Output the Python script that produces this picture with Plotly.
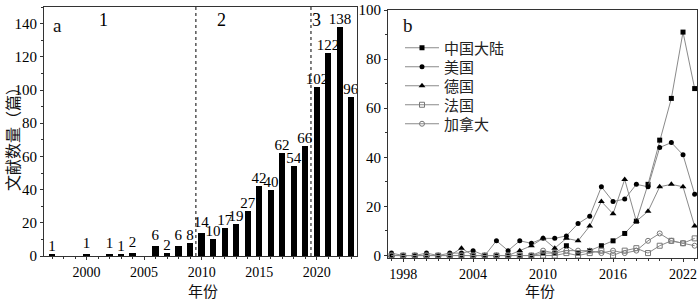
import plotly.graph_objects as go

# ---- Panel a data ----
years_a = list(range(1997, 2024))
counts_a = [1, 0, 0, 1, 0, 1, 1, 2, 0, 6, 2, 6, 8, 14, 10, 17, 19, 27, 42, 40, 62, 54, 66, 102, 122, 138, 96]
phase_bounds = [2009.5, 2019.5]
phase_labels = ["1", "2", "3"]
phase_label_x = [2001.5, 2011.7, 2020.0]

# ---- Panel b data ----
years_b = list(range(1997, 2024))
china = [0, 0, 0, 0, 0, 0, 0, 0, 0, 0, 0, 0, 0, 1, 1, 4, 1, 2, 4, 6, 9, 14, 29, 47, 64, 91, 68]
usa = [1, 0, 0, 1, 0, 1, 1, 2, 0, 6, 2, 6, 5, 7, 7, 8, 13, 16, 28, 22, 23, 29, 28, 44, 46, 41, 25]
germany = [0, 0, 0, 0, 0, 0, 3, 0, 0, 0, 0, 2, 4, 7, 3, 7, 6, 12, 22, 17, 31, 14, 18, 28, 29, 28, 12]
france = [0, 0, 0, 0, 0, 0, 0, 0, 0, 0, 0, 0, 0, 0, 0, 1, 0, 1, 2, 0, 2, 3, 1, 4, 6, 5, 7]
canada = [0, 0, 0, 0, 0, 0, 0, 0, 0, 0, 0, 0, 0, 2, 1, 2, 2, 2, 1, 2, 1, 2, 6, 9, 6, 5, 4]
series_names = ["中国大陆", "美国", "德国", "法国", "加拿大"]

FONT = "Liberation Serif, 'Times New Roman', 'Noto Sans CJK SC', serif"
CJK = "'Noto Sans CJK SC', 'Liberation Serif', serif"
AX = "#333333"
LINE = "#8a8a8a"

fig = go.Figure()

# bars
fig.add_trace(go.Bar(
    x=years_a, y=counts_a,
    text=[str(v) if v else "" for v in counts_a],
    textposition="outside", constraintext="none", cliponaxis=False,
    textfont=dict(family=FONT, size=15, color="black"),
    marker=dict(color="black", line=dict(width=0)),
    width=0.55, xaxis="x", yaxis="y", showlegend=False,
))

# dotted phase boundaries
for xb in phase_bounds:
    fig.add_shape(type="line", xref="x", yref="y", x0=xb, x1=xb, y0=0, y1=150,
                  line=dict(color="black", width=1, dash="dot"))

for lbl, xl in zip(phase_labels, phase_label_x):
    fig.add_annotation(x=xl, y=142, xref="x", yref="y", text=lbl, showarrow=False,
                       xanchor="center", yanchor="middle",
                       font=dict(family=FONT, size=18, color="black"))

# lines panel b, each in its own legend so spacing matches
specs = [
    (china, dict(symbol="square", size=5, color="black")),
    (usa, dict(symbol="circle", size=5, color="black")),
    (germany, dict(symbol="triangle-up", size=6, color="black")),
    (france, dict(symbol="square-open", size=5, color="#777777")),
    (canada, dict(symbol="circle-open", size=5, color="#777777")),
]
legend_ids = ["legend", "legend2", "legend3", "legend4", "legend5"]
legend_y_px = [48, 67, 86, 105, 124]
for name, (vals, mk), lid in zip(series_names, specs, legend_ids):
    fig.add_trace(go.Scatter(
        x=years_b, y=vals, name=name, mode="lines+markers",
        line=dict(color=LINE, width=1), marker=mk,
        xaxis="x2", yaxis="y2", legend=lid,
    ))

axis_common = dict(showline=True, linecolor=AX, linewidth=1, mirror=True,
                   showgrid=False, zeroline=False, ticks="outside", ticklen=3,
                   tickcolor=AX, automargin=False)
xfont = dict(family=FONT, size=14, color="black")
yfont = dict(family=FONT, size=15, color="black")

layout_legends = {}
for lid, ypx in zip(legend_ids, legend_y_px):
    layout_legends[lid] = dict(x=400/700, y=1-ypx/300, xanchor="left", yanchor="middle",
                               bgcolor="rgba(0,0,0,0)", borderwidth=0,
                               font=dict(family=CJK, size=15, color="#222"),
                               itemwidth=34, tracegroupgap=0)

fig.update_layout(
    width=700, height=300,
    margin=dict(l=0, r=0, t=0, b=0, pad=0),
    paper_bgcolor="white", plot_bgcolor="white",
    bargap=0,
    xaxis=dict(domain=[44/700, 357/700], range=[1996.3, 2023.5],
               tickvals=[2000, 2005, 2010, 2015, 2020], anchor="y", tickfont=xfont,
               minor=dict(dtick=1, ticklen=2, tickcolor=AX, ticks="outside"),
               **axis_common),
    yaxis=dict(domain=[1-256/300, 1-7/300], range=[0, 150],
               tickvals=[0, 20, 40, 60, 80, 100, 120, 140], anchor="x", tickfont=yfont,
               minor=dict(dtick=10, ticklen=2, tickcolor=AX, ticks="outside"),
               **axis_common),
    xaxis2=dict(domain=[388/700, 697/700], range=[1996.7, 2023.2],
                tickvals=[1998, 2004, 2010, 2016, 2022], anchor="y2", tickfont=xfont,
                minor=dict(dtick=1, ticklen=2, tickcolor=AX, ticks="outside"),
                **axis_common),
    yaxis2=dict(domain=[1-258/300, 1-10/300], range=[-1, 100],
                tickvals=[0, 20, 40, 60, 80, 100], anchor="x2", tickfont=yfont,
                minor=dict(dtick=10, ticklen=2, tickcolor=AX, ticks="outside"),
                **axis_common),
    **layout_legends,
)

def label(xp, yp, text, size, family, angle=0):
    fig.add_annotation(x=xp/700, y=1-yp/300, xref="paper", yref="paper", text=text,
                       xanchor="center", yanchor="middle", textangle=angle,
                       showarrow=False, font=dict(family=family, size=size, color="#111"))

# panel letters and titles
label(58, 25, "a", 19, FONT)
label(408, 25, "b", 19, FONT)
label(203, 290, "年份", 15, CJK)
label(540, 290, "年份", 15, CJK)
label(12, 135, "文献数量（篇）", 16, CJK, angle=-90)

fig.write_html("out.html", config={"displayModeBar": False},
               post_script="document.body.style.margin='0px';")
